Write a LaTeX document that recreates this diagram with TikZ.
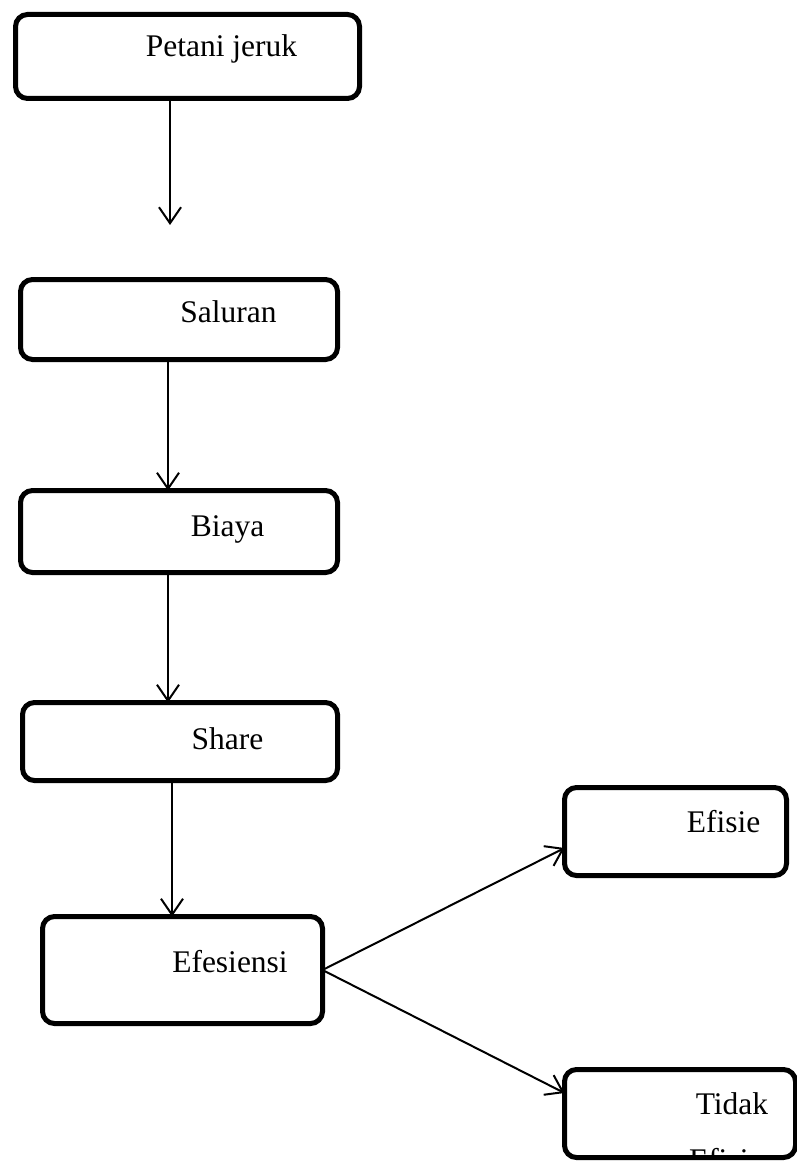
\documentclass[tikz,border=0pt]{standalone}
\usepackage{fontspec}
\setmainfont{Liberation Serif}
\usetikzlibrary{arrows.meta, calc}
\tikzset{box/.style={draw,rounded corners=12pt,line width=5pt,inner sep=0pt,outer sep=0pt}}
\tikzset{lbl/.style={anchor=base,inner sep=0pt,font=\fontsize{31.5}{38}\selectfont}}

\begin{document}
\begin{tikzpicture}[x=1pt,y=-1pt,>={Straight Barb[length=16pt,width=22pt]},line width=2pt]
    \useasboundingbox (0,0) rectangle (796,1166);

    % kotak
    \node[box, minimum width=344pt, minimum height=84pt] at (187.5,56.5) (petani){};
    \node[box, minimum width=317pt, minimum height=80pt] at (179,319.5) (saluran){};
    \node[box, minimum width=317pt, minimum height=82pt] at (179,531.5) (biaya){};
    \node[box, minimum width=315pt, minimum height=78pt] at (180,741.5) (share){};
    \node[box, minimum width=280pt, minimum height=107pt] at (182.5,970) (efesiensi){};
    \node[box, minimum width=222pt, minimum height=88pt] at (675.5,831.5) (efisien){};
    \node[box, minimum width=231pt, minimum height=88pt] at (680,1113.5) (tidak){};

    % teks
    \node[lbl] at (221.5,57) (tpetani){Petani jeruk};
    \node[lbl] at (228.5,322) (tsaluran){Saluran};
    \node[lbl] at (227.5,536) (tbiaya){Biaya};
    \node[lbl] at (227.5,749) (tshare){Share};
    \node[lbl] at (230,972) (tefesiensi){Efesiensi};
    \node[lbl] at (723.5,832) (tefisien){Efisie};
    \node[lbl] at (732,1114) (ttidak){Tidak};
    \begin{scope}
        \clip ([shift={(2.5pt,-2.5pt)}]tidak.north west) rectangle ([shift={(-2.5pt,2.5pt)}]tidak.south east);
        \node[lbl, anchor=base west] at (688,1170) (tefisien2){Efisien};
    \end{scope}

    % panah
    \coordinate (ujung) at (170,225);
    \draw[->] ([xshift=-17.5pt]petani.south) -- (ujung);
    \draw[->] ([xshift=-11pt]saluran.south) -- ([xshift=-11pt]biaya.north);
    \draw[->] ([xshift=-11pt]biaya.south) -- ([xshift=-12pt]share.north);
    \draw[->] ([xshift=-8pt]share.south) -- ([xshift=-10.5pt]efesiensi.north);
    \draw[->] (efesiensi.east) -- ([yshift=-16.5pt]efisien.west);
    \draw[->] (efesiensi.east) -- ([yshift=20.5pt]tidak.west);

\end{tikzpicture}
\end{document}
